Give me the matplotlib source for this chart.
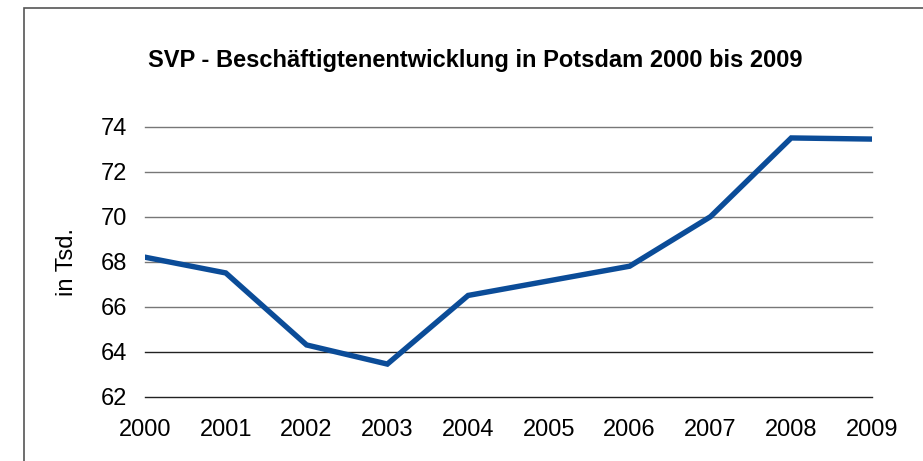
import matplotlib.pyplot as plt
from matplotlib.patches import Rectangle

years = [2000, 2001, 2002, 2003, 2004, 2005, 2006, 2007, 2008, 2009]
employees = [68.2, 67.5, 64.3, 63.45, 66.5, 67.15, 67.8, 70.0, 73.5, 73.45]
y_ticks = [62, 64, 66, 68, 70, 72, 74]

plt.rcParams['font.family'] = ['Liberation Sans', 'DejaVu Sans']

fig = plt.figure(figsize=(9.23, 4.61), dpi=100)
ax = fig.add_axes([145 / 923, 1 - 396.7 / 461, (872 - 145) / 923, 270 / 461])

# frame round the chart (left and top edges visible)
fig.patches.append(Rectangle((24 / 923, -0.2), 1.2, 1.2 - 8 / 461, transform=fig.transFigure,
                             fill=False, edgecolor='#555555', linewidth=1.2))

for t in y_ticks:
    col = '#222222' if t <= 64 else '#777777'
    ax.axhline(t, color=col, linewidth=1.0, zorder=1, clip_on=False)

ax.plot(years, employees, color='#0B4C98', linewidth=3.9, solid_joinstyle='miter', zorder=3)

ax.set_xlim(years[0], years[-1])
ax.set_ylim(62, 74)
ax.set_yticks(y_ticks)
ax.set_xticks(years)
ax.tick_params(length=0, labelsize=17, colors='black')
ax.tick_params(axis='y', pad=13)
ax.tick_params(axis='x', pad=16)
for s in ax.spines.values():
    s.set_visible(False)
ax.set_facecolor('none')

ax.set_ylabel('in Tsd.', fontsize=17, labelpad=16)
fig.text(475 / 923, 1 - 60 / 461, 'SVP - Beschäftigtenentwicklung in Potsdam 2000 bis 2009',
         ha='center', va='center', fontsize=17, fontweight='bold')

plt.savefig('out.png', dpi=100)
